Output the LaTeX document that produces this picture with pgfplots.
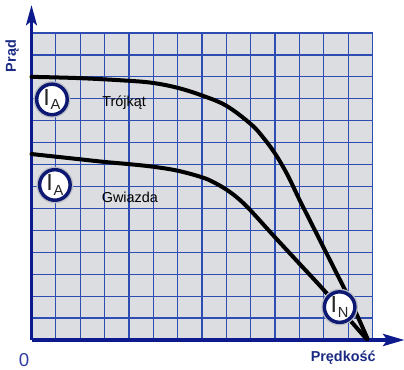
\documentclass[border=0pt]{standalone}
\usepackage{fontspec}
\setmainfont{Liberation Sans}
\usepackage{pgfplots}
\pgfplotsset{compat=1.18}
\usetikzlibrary{arrows.meta}

\definecolor{axisnavy}{HTML}{0C1A8E}
\definecolor{gridblue}{HTML}{2E4DB2}
\definecolor{panel}{HTML}{DCDDE0}
\definecolor{ringnavy}{HTML}{0D1872}
\definecolor{halo}{HTML}{B9BDC6}
\definecolor{labnavy}{HTML}{1B2A82}

\tikzset{
  badge/.style={circle, fill=white, draw=ringnavy, line width=2.6pt,
    minimum size=22.9pt, inner sep=0pt, text=black!85,
    preaction={draw=halo, line width=4.6pt}},
}
\newcommand{\cur}[1]{{\fontsize{17.5}{17.5}\selectfont I\kern0.6pt\raisebox{-3.3pt}{\fontsize{11}{11}\selectfont #1}}}

\begin{document}
\begin{tikzpicture}
\path[use as bounding box] (-23.625pt,-22.5pt) rectangle (279.375pt,255pt);
\begin{axis}[
    scale only axis, width=255.75pt, height=230.25pt,
    xmin=0, xmax=14, ymin=0, ymax=14,
    xtick={0,...,14}, ytick={0,...,14},
    xticklabels={}, yticklabels={},
    tick style={draw=none}, major tick length=0pt,
    grid=major, grid style={gridblue, line width=0.95pt},
    axis background/.style={fill=panel},
    axis lines=left,
    axis line style={axisnavy, line width=2.8pt},
    x axis line style={-{Stealth[length=16pt, width=9pt, inset=3pt]}, shorten >=-24pt},
    y axis line style={-{Stealth[length=15pt, width=8pt, inset=3pt]}, shorten >=-21pt},
    clip=false,
    xlabel={Prędkość}, ylabel={Prąd},
    xlabel style={at={(axis description cs:0.914,-0.059)}, anchor=center,
        font=\fontsize{10.8}{12}\selectfont\bfseries, text=labnavy},
    ylabel style={at={(axis description cs:-0.057,0.925)}, anchor=center,
        font=\fontsize{10.8}{12}\selectfont\bfseries, text=labnavy},
]
% Trójkąt
\addplot[black, line width=3pt, smooth, tension=0.6, line cap=round] coordinates {
    (0,12.0) (2,11.94) (4,11.82) (5,11.72) (6,11.5) (7,11.15) (8,10.68)
    (9,9.85) (9.5,9.25) (10,8.5) (10.5,7.55) (11,6.4) (11.5,5.3)
    (12,4.2) (12.5,3.1) (13,2.0) (13.4,1.05) (13.8,0.05)
};
% Gwiazda
\addplot[black, line width=3pt, smooth, tension=0.6, line cap=round] coordinates {
    (0,8.48) (1,8.36) (2,8.24) (3,8.12) (4,8.02) (5,7.9) (6,7.72)
    (7,7.42) (7.5,7.18) (8,6.86) (8.5,6.44) (9,5.9) (10,4.68)
    (11,3.48) (12,2.28) (13,1.0) (13.75,0.05)
};
\node[badge] at (axis cs:0.84,10.97) {\cur{A}};
\node[badge] at (axis cs:0.96,7.07) {\cur{A}};
\node[badge] at (axis cs:12.65,1.5) {\cur{N}};
\node[font=\fontsize{10.8}{12}\selectfont] at (axis cs:3.8,10.8) {Trójkąt};
\node[font=\fontsize{10.8}{12}\selectfont] at (axis cs:4.04,6.49) {Gwiazda};
\node[font=\fontsize{14}{14}\selectfont, text=axisnavy!85] at (axis cs:-0.31,-0.91) {0};
\end{axis}
\end{tikzpicture}
\end{document}
